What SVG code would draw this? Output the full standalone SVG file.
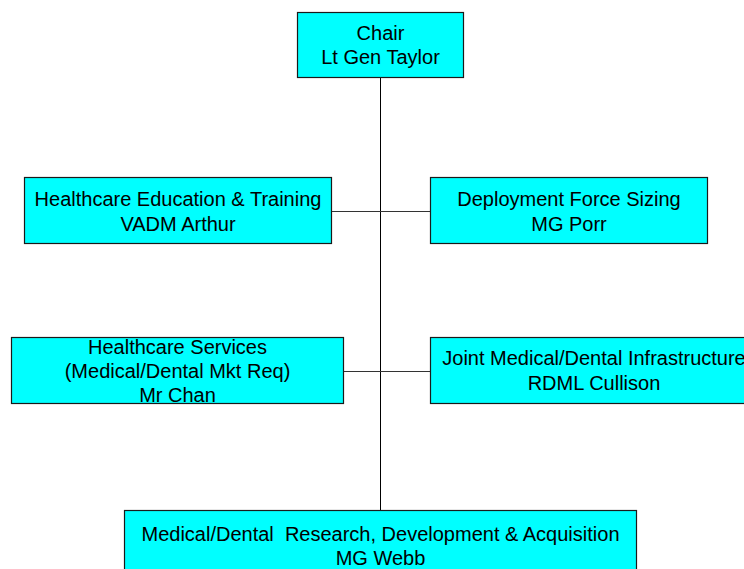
<svg xmlns="http://www.w3.org/2000/svg" width="744" height="569" viewBox="0 0 744 569">
<style>
.box{fill:#00FFFF;stroke:#1a1a1a;stroke-width:1.2}
.t{font-family:"Liberation Sans",Arial,sans-serif;font-size:20px;fill:#000;text-anchor:middle}
.c{stroke:#000;stroke-width:1;fill:none}
.h{stroke:#333;stroke-width:1;fill:none}
</style>
<rect width="744" height="569" fill="#fff"/>
<g id="connectors">
<line class="c" x1="380.5" y1="77" x2="380.5" y2="510"/>
<line class="h" x1="331" y1="211.5" x2="430" y2="211.5"/>
<line class="h" x1="343" y1="371.5" x2="430" y2="371.5"/>
</g>
<g id="chair">
<rect class="box" x="297.5" y="12.5" width="166" height="65"/>
<text class="t" x="380.5" y="40">Chair</text>
<text class="t" x="380.5" y="63.5">Lt Gen Taylor</text>
</g>
<g id="education">
<rect class="box" x="24.5" y="177.5" width="307" height="66"/>
<text class="t" x="178" y="206">Healthcare Education &amp; Training</text>
<text class="t" x="178" y="230.5">VADM Arthur</text>
</g>
<g id="deployment">
<rect class="box" x="430.5" y="177.5" width="277" height="66"/>
<text class="t" x="569" y="206">Deployment Force Sizing</text>
<text class="t" x="569" y="230.5">MG Porr</text>
</g>
<g id="services">
<rect class="box" x="11.5" y="337.5" width="332" height="66"/>
<text class="t" x="177.5" y="354">Healthcare Services</text>
<text class="t" x="177.5" y="378">(Medical/Dental Mkt Req)</text>
<text class="t" x="177.5" y="402">Mr Chan</text>
</g>
<g id="infrastructure">
<rect class="box" x="430.5" y="337.5" width="328" height="66"/>
<text class="t" x="594" y="365">Joint Medical/Dental Infrastructure</text>
<text class="t" x="594" y="390">RDML Cullison</text>
</g>
<g id="research">
<rect class="box" x="124.5" y="510.5" width="512" height="66"/>
<text class="t" x="380.5" y="541" xml:space="preserve">Medical/Dental  Research, Development &amp; Acquisition</text>
<text class="t" x="380.5" y="565">MG Webb</text>
</g>
</svg>
